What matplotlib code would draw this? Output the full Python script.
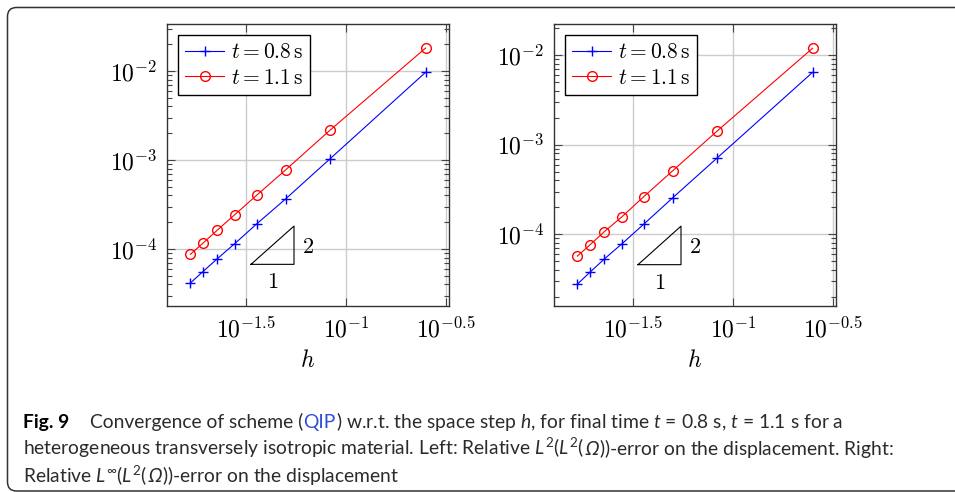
import matplotlib
matplotlib.use("Agg")
import matplotlib.pyplot as plt
import numpy as np
from matplotlib.ticker import FixedLocator, FuncFormatter, LogLocator, NullFormatter
from matplotlib.patches import FancyBboxPatch

plt.rcParams["mathtext.fontset"] = "cm"
plt.rcParams["mathtext.rm"] = "Lato"
plt.rcParams["mathtext.it"] = "Lato:italic"
plt.rcParams["mathtext.bf"] = "Lato:bold"

# mesh sizes h = 1/4, 1/12, ..., 1/60
h = [1/4, 1/12, 1/20, 1/28, 1/36, 1/44, 1/52, 1/60]

# left: relative L2(L2) error
left_t08 = [9.67e-3, 1.035e-3, 3.67e-4, 1.91e-4, 1.15e-4, 7.78e-5, 5.56e-5, 4.15e-5]
left_t11 = [1.81e-2, 2.17e-3, 7.78e-4, 4.01e-4, 2.43e-4, 1.63e-4, 1.16e-4, 8.71e-5]
# right: relative Linf(L2) error
right_t08 = [6.41e-3, 7.11e-4, 2.56e-4, 1.29e-4, 7.8e-5, 5.3e-5, 3.76e-5, 2.78e-5]
right_t11 = [1.19e-2, 1.42e-3, 5.12e-4, 2.62e-4, 1.56e-4, 1.07e-4, 7.59e-5, 5.71e-5]

labels = [r"$t = 0.8\,\mathrm{s}$", r"$t = 1.1\,\mathrm{s}$"]
xticks_exp = [-1.5, -1, -0.5]

W, H = 955, 492
fig = plt.figure(figsize=(W / 100, H / 100), dpi=100)

# rounded frame around figure + caption (display coords, origin bottom-left)
frame = FancyBboxPatch((7.5, 1.0), 1100, 483.5, boxstyle="round,pad=0,rounding_size=9",
                       transform=None, fill=False, ec="#333333", lw=1.1)
fig.patches.append(frame)


def setup(ax, ylim, tri_y0):
    ax.set_xscale("log")
    ax.set_yscale("log")
    ax.set_xlim(10**-1.895, 10**-0.485)
    ax.set_ylim(*ylim)
    ax.xaxis.set_major_locator(FixedLocator([10**e for e in xticks_exp]))
    ax.xaxis.set_major_formatter(FuncFormatter(lambda v, p: r"$10^{%g}$" % np.log10(v)))
    ax.xaxis.set_minor_locator(FixedLocator([]))
    ax.yaxis.set_major_locator(LogLocator(base=10))
    ax.yaxis.set_major_formatter(FuncFormatter(lambda v, p: r"$10^{%d}$" % round(np.log10(v))))
    ax.yaxis.set_minor_locator(LogLocator(base=10, subs=np.arange(2, 10)))
    ax.yaxis.set_minor_formatter(NullFormatter())
    ax.tick_params(which="both", direction="in", top=True, right=True,
                   color="#444444", width=0.8, labelsize=17)
    ax.tick_params(axis="x", pad=8)
    ax.tick_params(axis="y", pad=7)
    ax.tick_params(which="major", length=6)
    ax.tick_params(which="minor", length=3.5)
    for s in ax.spines.values():
        s.set_color("#333333")
        s.set_linewidth(1.0)
    ax.grid(True, which="major", color="#cccccc", lw=1.0)
    ax.set_axisbelow(True)
    ax.set_xlabel(r"$h$", fontsize=17, labelpad=4)

    # slope-2 triangle
    x0, x1 = 10**-1.475, 10**-1.26
    y0 = 10**tri_y0
    y1 = y0 * (x1 / x0) ** 2
    ax.plot([x0, x1, x1, x0], [y0, y0, y1, y0], color="black", lw=0.8)
    ax.text(x1 * 10**0.07, np.sqrt(y0 * y1) * 10**-0.02, r"$2$", fontsize=16, va="center", ha="center")
    ax.text(np.sqrt(x0 * x1), y0 * 10**-0.2, r"$1$", fontsize=16, va="center", ha="center")


ax1 = fig.add_axes([167 / W, 1 - 306 / H, 282 / W, 282 / H])
ax2 = fig.add_axes([554 / W, 1 - 306 / H, 282 / W, 282 / H])

for ax, d08, d11 in [(ax1, left_t08, left_t11), (ax2, right_t08, right_t11)]:
    ax.plot(h, d08, color="blue", lw=0.8, marker="+", ms=7, mew=1.0, label=labels[0])
    ax.plot(h, d11, color="red", lw=0.8, marker="o", ms=7, mfc="none", mew=1.0, label=labels[1])
    leg = ax.legend(loc="upper left", fontsize=15.5, frameon=True, fancybox=False,
                    edgecolor="black", framealpha=1, borderaxespad=0.5, handlelength=1.8,
                    handletextpad=0.3, borderpad=0.35, labelspacing=0.25)
    leg.get_frame().set_linewidth(1.0)

setup(ax1, (10**-4.64, 10**-1.472), -4.172)
setup(ax2, (10**-4.80, 10**-1.654), -4.339)

# caption
cap_kw = dict(fontsize=13.9, family="Lato", color="#2b2b2b", math_fontfamily="custom",
              transform=None, va="baseline", ha="left")
fig.canvas.draw()
renderer = fig.canvas.get_renderer()


def put(x, y, s, **kw):
    opts = dict(cap_kw)
    opts.update(kw)
    t = fig.text(x, H - y, s, **opts)
    return x + t.get_window_extent(renderer).width


omega = dict(family="Noto Sans", style="italic", fontweight="bold")

put(23, 428, "Fig. 9", fontweight="bold", color="black")
x = put(90, 428, "Convergence of scheme (")
x = put(x, 428, "QIP", color="#2f4fd8")
put(x, 428, r") w.r.t. the space step $h$, for final time $t$ = 0.8 s, $t$ = 1.1 s for a")

x = put(23, 455, r"heterogeneous transversely isotropic material. Left: Relative $L^2(L^2($")
x = put(x + 1, 455, "Ω", **omega)
put(x + 1, 455, r"$))$-error on the displacement. Right:")

x = put(23, 482, r"Relative $L^{\infty}(L^2($")
x = put(x + 1, 482, "Ω", **omega)
put(x + 1, 482, r"$))$-error on the displacement")

fig.savefig("out.png", dpi=100)
